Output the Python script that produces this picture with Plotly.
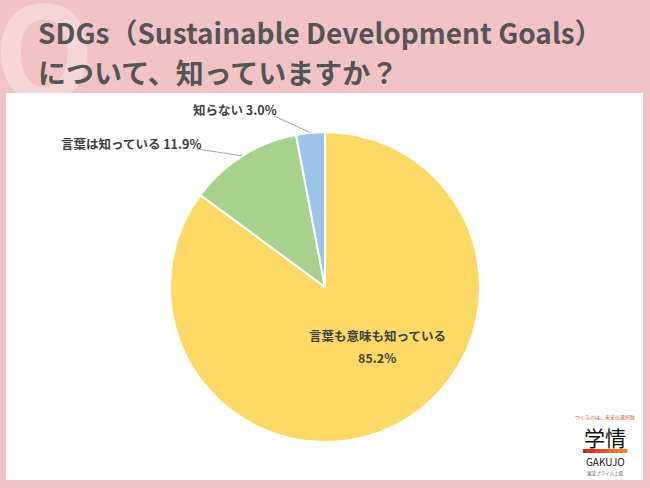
import math
import plotly.graph_objects as go

# ---- data ----
categories = ["言葉も意味も知っている", "言葉は知っている", "知らない"]
values = [85.2, 11.9, 3.0]
colors = ["#FFD966", "#A9D18E", "#9DC3E6"]
title_line1 = "SDGs（Sustainable Development Goals）"
title_line2 = "について、知っていますか？"

W, H = 650, 488
BG = "#F2C3C5"
FONT = "Noto Sans CJK JP"

# pie geometry (pixels)
cx, cy, r = 325, 287, 155
dom_x = [(cx - r) / W, (cx + r) / W]
dom_y = [1 - (cy + r) / H, 1 - (cy - r) / H]

fig = go.Figure()
fig.add_trace(go.Pie(
    labels=categories, values=values, sort=False, direction="clockwise",
    rotation=0, marker=dict(colors=colors, line=dict(color="white", width=2)),
    textinfo="none", hoverinfo="none", showlegend=False,
    domain=dict(x=dom_x, y=dom_y),
))

def px2paper(x, y):
    return x / W, 1 - y / H

shapes = []
annotations = []

# white panel
shapes.append(dict(type="rect", xref="paper", yref="paper", layer="below",
                   x0=6 / W, x1=643 / W, y0=1 - 480 / H, y1=1 - 93 / H,
                   fillcolor="white", line=dict(width=0)))

# Q watermark
annotations.append(dict(text="<b>Q</b>", x=44 / W, y=1 - 44 / H, xref="paper", yref="paper",
                        showarrow=False, font=dict(family=FONT, size=130, color="rgba(255,255,255,0.3)"),
                        xanchor="center", yanchor="middle"))

# title
for i, t in enumerate([title_line1, title_line2]):
    annotations.append(dict(text=f"<b>{t}</b>", x=36 / W, y=1 - (32 + 40 * i) / H,
                            xref="paper", yref="paper", showarrow=False, xanchor="left",
                            yanchor="middle", font=dict(family=FONT, size=28, color="#555555")))

# outside labels with leader lines, computed from slice mid-angles
total = sum(values)
cum = 0
mids = []
for v in values:
    mids.append((cum + v / 2) / total * 2 * math.pi)
    cum += v

label_pos = {1: (59, 143, 197, 149), 2: (191, 110, 274, 116)}  # text left x, y, line start x, y
for idx, (tx, ty, lx, ly) in label_pos.items():
    a = mids[idx]
    ex, ey = cx + r * math.sin(a), cy - r * math.cos(a)
    x0, y0 = px2paper(lx, ly)
    x1, y1 = px2paper(ex, ey)
    shapes.append(dict(type="line", xref="paper", yref="paper", x0=x0, y0=y0, x1=x1, y1=y1,
                       line=dict(color="#A6A6A6", width=1)))
    annotations.append(dict(text=f"<b>{categories[idx]} {values[idx]:.1f}%</b>",
                            x=tx / W, y=1 - ty / H, xref="paper", yref="paper",
                            showarrow=False, xanchor="left", yanchor="middle",
                            font=dict(family=FONT, size=12.5, color="#404040")))

# inside label (two lines)
for txt, yy in [(categories[0], 335), (f"{values[0]:.1f}%", 357)]:
    annotations.append(dict(text=f"<b>{txt}</b>", x=377 / W, y=1 - yy / H, xref="paper", yref="paper",
                            showarrow=False, xanchor="center", yanchor="middle",
                            font=dict(family=FONT, size=12.5, color="#404040")))

# logo
logo = [("つくるのは、未来の選択肢", 417, 5, "#E8502A"),
        ("学情", 437, 21, "#111111"),
        ("GAKUJO", 461, 10, "#111111"),
        ("東証プライム上場", 473, 4.5, "#555555")]
for txt, yy, sz, col in logo:
    annotations.append(dict(text=txt, x=605 / W, y=1 - yy / H, xref="paper", yref="paper",
                            showarrow=False, xanchor="center", yanchor="middle",
                            font=dict(family=FONT, size=sz, color=col)))
n = 10
c0, c1 = (215, 30, 30), (240, 140, 30)
for i in range(n):
    t = i / (n - 1)
    col = "rgb(%d,%d,%d)" % tuple(int(c0[k] + (c1[k] - c0[k]) * t) for k in range(3))
    shapes.append(dict(type="rect", xref="paper", yref="paper",
                       x0=(583 + 44 * i / n) / W, x1=(583 + 44 * (i + 1) / n + 0.3) / W,
                       y0=1 - 453 / H, y1=1 - 449 / H, fillcolor=col, line=dict(width=0)))

fig.update_layout(width=W, height=H, margin=dict(l=0, r=0, t=0, b=0),
                  paper_bgcolor=BG, plot_bgcolor=BG, shapes=shapes, annotations=annotations,
                  font=dict(family=FONT))
fig.write_html("out.html", config=dict(displayModeBar=False),
               post_script="document.body.style.margin='0';document.body.style.overflow='hidden';")
